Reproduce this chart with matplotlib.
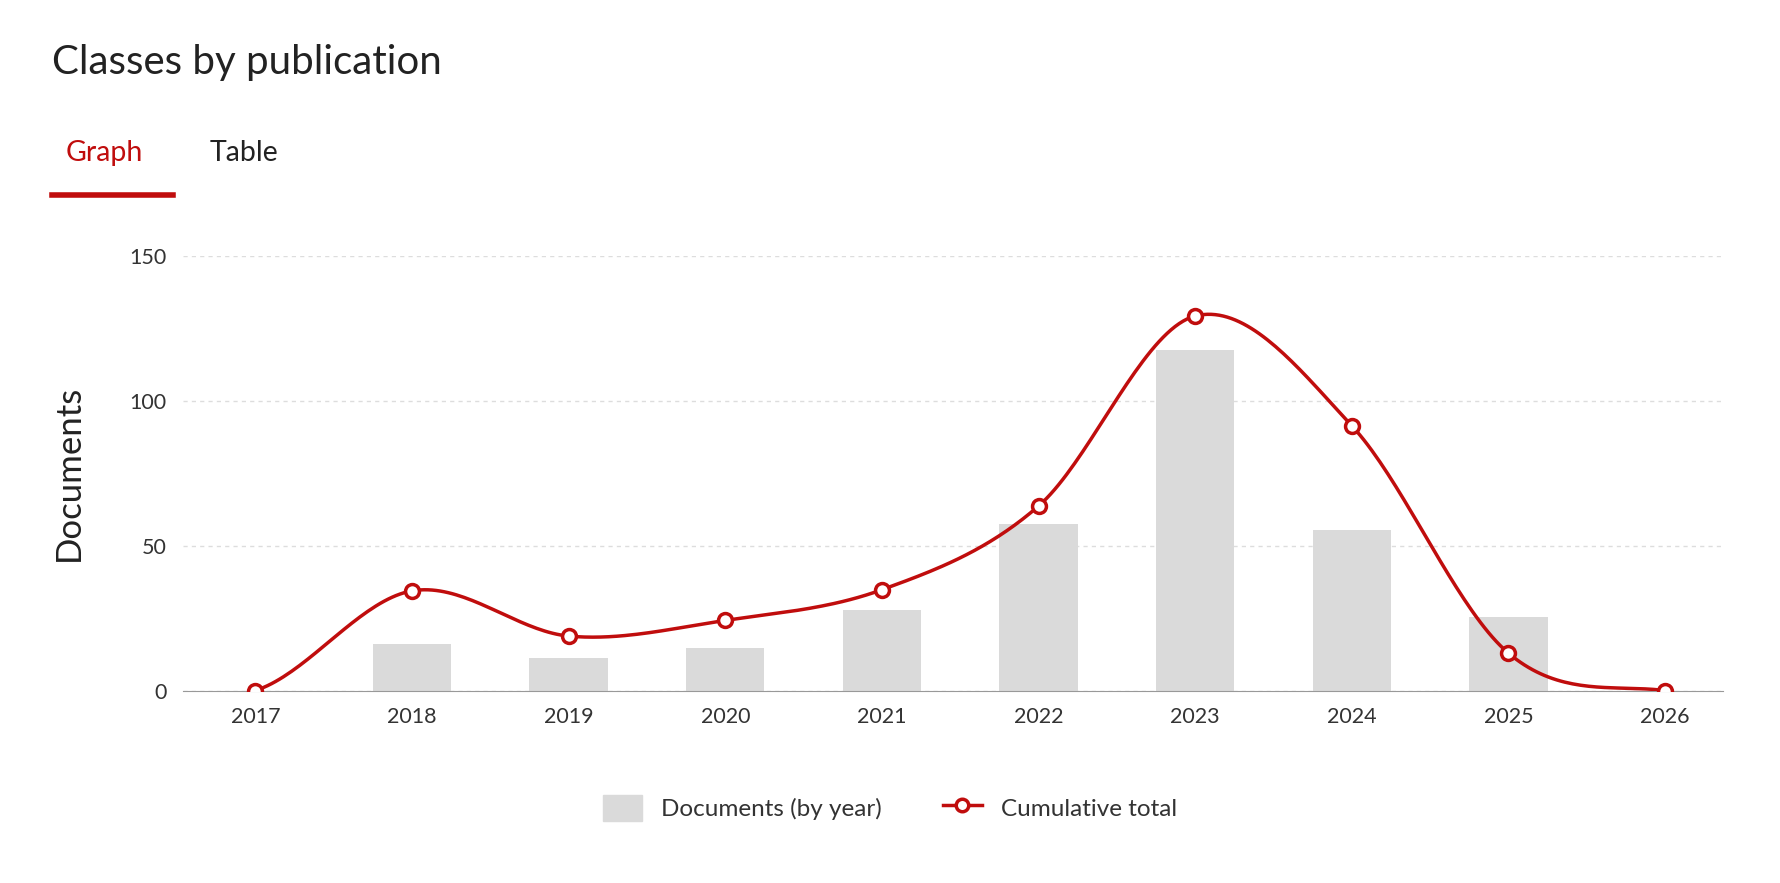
import numpy as np
import matplotlib
matplotlib.use('Agg')
import matplotlib.pyplot as plt
from matplotlib.lines import Line2D
from matplotlib.patches import Patch

plt.rcParams['font.family'] = ['Lato', 'DejaVu Sans']

years = ['2017', '2018', '2019', '2020', '2021', '2022', '2023', '2024', '2025', '2026']
docs_by_year = [0, 16, 11.3, 14.8, 27.7, 57.4, 117.6, 55.5, 25.4, 0]
cumulative = [0, 34.4, 18.8, 24.2, 34.8, 63.7, 129.3, 91.4, 12.9, 0]

RED = '#c00d0d'
GREY = '#dadada'


def catmull_rom(x, y, n=40):
    # smooth drawing path through the points
    x = np.asarray(x, float)
    y = np.asarray(y, float)
    px = np.concatenate([[x[0]], x, [x[-1]]])
    py = np.concatenate([[y[0]], y, [y[-1]]])
    xs, ys = [], []
    t = np.linspace(0, 1, n)
    for i in range(1, len(px) - 2):
        p0, p1, p2, p3 = py[i - 1], py[i], py[i + 1], py[i + 2]
        m1 = (p2 - p0) / 2
        m2 = (p3 - p1) / 2
        h00 = 2 * t**3 - 3 * t**2 + 1
        h10 = t**3 - 2 * t**2 + t
        h01 = -2 * t**3 + 3 * t**2
        h11 = t**3 - t**2
        xs.append(px[i] + (px[i + 1] - px[i]) * t)
        ys.append(h00 * p1 + h10 * m1 + h01 * p2 + h11 * m2)
    return np.concatenate(xs), np.concatenate(ys)


fig = plt.figure(figsize=(17.8, 8.83), dpi=100)
ax = fig.add_axes([0.103, 0.218, 0.865, 0.492])

x = np.arange(len(years))
ax.bar(x, docs_by_year, width=0.5, color=GREY, zorder=2)
sx, sy = catmull_rom(x, cumulative)
ax.plot(sx, sy, color=RED, lw=2.5, zorder=3)
ax.plot(x, cumulative, 'o', ms=10, mfc='white', mec=RED, mew=2.5, zorder=4)

ax.set_xlim(-0.46, 9.37)
ax.set_ylim(0, 150)
ax.set_yticks([0, 50, 100, 150])
ax.set_xticks(x)
ax.set_xticklabels(years)
ax.yaxis.grid(True, color='#dddddd', ls=(0, (3, 3)), lw=1)
ax.set_axisbelow(True)
for s in ['top', 'right', 'left']:
    ax.spines[s].set_visible(False)
ax.spines['bottom'].set_color('#999999')
ax.tick_params(axis='both', length=0, labelsize=15.5, colors='#333333', pad=12)
ax.set_ylabel('Documents', fontsize=25, color='#222222', labelpad=32)

fig.text(0.029, 0.929, 'Classes by publication', fontsize=29, color='#222222', va='center')
fig.text(0.037, 0.827, 'Graph', fontsize=20.5, color=RED, va='center')
fig.text(0.118, 0.827, 'Table', fontsize=20.5, color='#222222', va='center')
fig.add_artist(Line2D([0.029, 0.097], [0.779, 0.779], color=RED, lw=4, transform=fig.transFigure))

handles = [Patch(color=GREY, label='Documents (by year)'),
           Line2D([], [], color=RED, lw=2.5, marker='o', ms=9, mfc='white', mec=RED, mew=2.5,
                  label='Cumulative total')]
fig.legend(handles=handles, loc='center', bbox_to_anchor=(0.5, 0.085), ncol=2, frameon=False,
           fontsize=17.5, handlelength=1.6, handleheight=1.3, columnspacing=2.5, labelcolor='#333333')

fig.savefig('out.png', facecolor='white')
